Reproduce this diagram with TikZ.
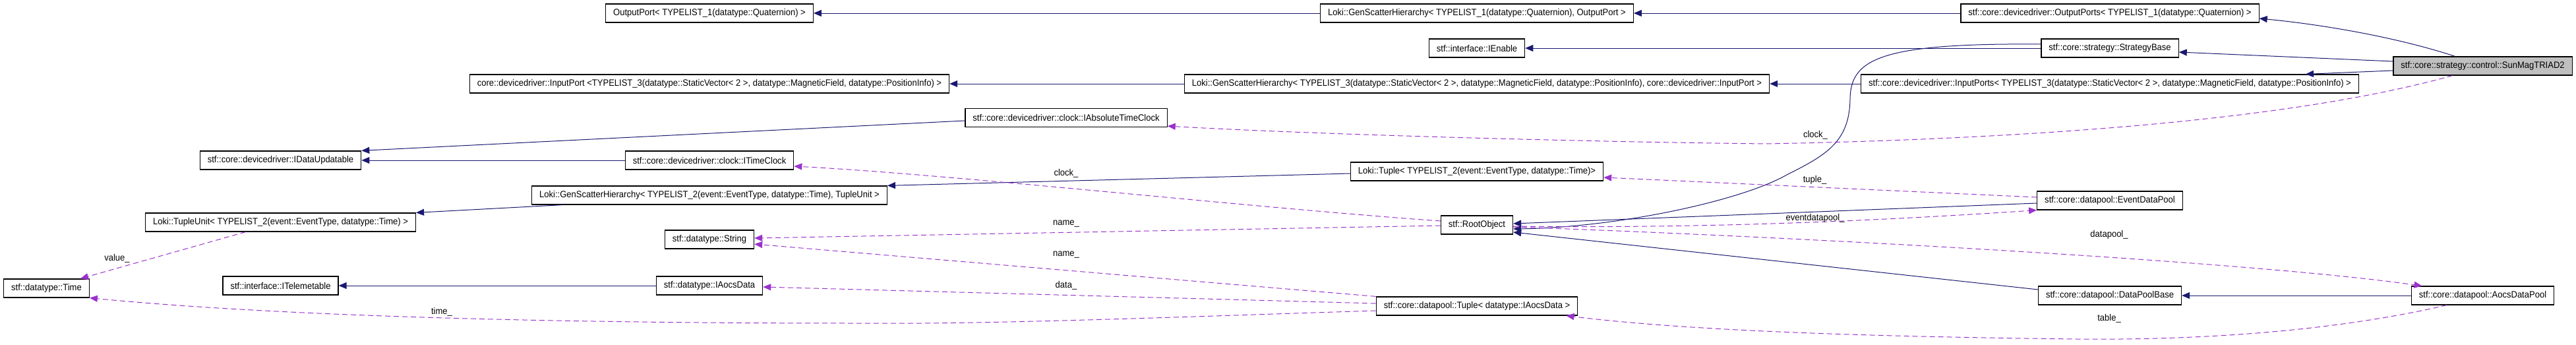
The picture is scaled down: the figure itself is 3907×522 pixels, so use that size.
\documentclass[tikz,border=0pt]{standalone}
\usepackage{fontspec}
\setmainfont{Liberation Sans}[FakeStretch=0.93]
\usetikzlibrary{arrows.meta}
\definecolor{inhblue}{RGB}{25,25,112}
\definecolor{usepurple}{RGB}{154,50,205}
\definecolor{curgray}{RGB}{191,191,191}
\tikzset{cls/.style={draw=black,line width=1.2pt,fill=white,font=\fontsize{14}{16}\selectfont,inner xsep=11.5pt,inner ysep=2pt,minimum height=28pt},cur/.style={cls,fill=curgray},inh/.style={-{Triangle[length=12pt,width=10pt]},draw=inhblue,line width=1pt},uses/.style={inh,draw=usepurple,dash pattern=on 8pt off 5pt},lbl/.style={font=\fontsize{14}{16}\selectfont,inner sep=0pt}}

\begin{document}
\begin{tikzpicture}[x=1pt,y=1pt]
\useasboundingbox (0,0) rectangle (3907,-522);
\node[cls] (outport) at (1076,-20) {OutputPort< TYPELIST\_1(datatype::Quaternion) >};
\node[cls] (gsh1) at (2240,-20) {Loki::GenScatterHierarchy< TYPELIST\_1(datatype::Quaternion), OutputPort >};
\node[cls] (outports) at (3200,-20) {stf::core::devicedriver::OutputPorts< TYPELIST\_1(datatype::Quaternion) >};
\node[cls] (ienable) at (2240,-73) {stf::interface::IEnable};
\node[cls] (strategy) at (3200,-73) {stf::core::strategy::StrategyBase};
\node[cls] (inport) at (1076,-127) {core::devicedriver::InputPort <TYPELIST\_3(datatype::StaticVector< 2 >, datatype::MagneticField, datatype::PositionInfo) >};
\node[cls] (gsh3) at (2240,-127) {Loki::GenScatterHierarchy< TYPELIST\_3(datatype::StaticVector< 2 >, datatype::MagneticField, datatype::PositionInfo), core::devicedriver::InputPort >};
\node[cls] (inports) at (3200,-127) {stf::core::devicedriver::InputPorts< TYPELIST\_3(datatype::StaticVector< 2 >, datatype::MagneticField, datatype::PositionInfo) >};
\node[cur] (sunmag) at (3765.5,-100) {stf::core::strategy::control::SunMagTRIAD2};
\node[cls] (abstime) at (1617,-178.5) {stf::core::devicedriver::clock::IAbsoluteTimeClock};
\node[cls] (dataupd) at (425.5,-243) {stf::core::devicedriver::IDataUpdatable};
\node[cls] (timeclock) at (1076,-243) {stf::core::devicedriver::clock::ITimeClock};
\node[cls] (ltuple) at (2240,-260) {Loki::Tuple< TYPELIST\_2(event::EventType, datatype::Time)>};
\node[cls] (gsh2) at (1076,-296) {Loki::GenScatterHierarchy< TYPELIST\_2(event::EventType, datatype::Time), TupleUnit >};
\node[cls] (tupleunit) at (425.5,-337) {Loki::TupleUnit< TYPELIST\_2(event::EventType, datatype::Time) >};
\node[cls] (rootobj) at (2240,-341) {stf::RootObject};
\node[cls] (eventpool) at (3200,-304) {stf::core::datapool::EventDataPool};
\node[cls] (string) at (1076,-363) {stf::datatype::String};
\node[cls] (telem) at (425.5,-433) {stf::interface::ITelemetable};
\node[cls] (aocsdata) at (1076,-433) {stf::datatype::IAocsData};
\node[cls] (time) at (70.5,-437) {stf::datatype::Time};
\node[cls] (ttuple) at (2240,-464) {stf::core::datapool::Tuple< datatype::IAocsData >};
\node[cls] (poolbase) at (3200,-448) {stf::core::datapool::DataPoolBase};
\node[cls] (aocspool) at (3765.5,-448) {stf::core::datapool::AocsDataPool};
% inheritance
\draw[inh] (gsh1) -- (outport);
\draw[inh] (outports) -- (gsh1);
\draw[inh] ([xshift=-42pt]sunmag.north) .. controls (3640,-58) and (3530,-38) .. ([yshift=-8pt]outports.east);
\draw[inh] ([yshift=7pt]sunmag.west) -- ([yshift=-6pt]strategy.east);
\draw[inh] ([yshift=-7pt]sunmag.west) -- ([xshift=-81pt]inports.north east);
\draw[inh] (strategy) -- (ienable);
\draw[inh] ([yshift=6pt]strategy.west) .. controls (2850,-65) and (2807,-90) .. (2806,-150) .. controls (2805,-215) and (2770,-235) .. (2710,-265) .. controls (2640,-305) and (2450,-345) .. ([yshift=-6pt]rootobj.east);
\draw[inh] ([yshift=-4pt]eventpool.west) -- ([yshift=2pt]rootobj.east);
\draw[inh] ([yshift=9pt]poolbase.west) -- ([yshift=-11pt]rootobj.east);
\draw[inh] ([yshift=-4.5pt]abstime.west) -- (dataupd.north east);
\draw[inh] (timeclock) -- (dataupd);
\draw[inh] (gsh3) -- (inport);
\draw[inh] (inports) -- (gsh3);
\draw[inh] ([xshift=47pt]gsh2.south west) -- (tupleunit.north east);
\draw[inh] ([yshift=-3pt]ltuple.west) -- (gsh2.north east);
\draw[inh] (aocsdata) -- (telem);
\draw[inh] (aocspool) -- (poolbase);
% members
\draw[uses] ([xshift=-46pt]sunmag.south) .. controls (3450,-190) and (3000,-212) .. (2680,-218) .. controls (2400,-215) and (2000,-204) .. ([yshift=2pt]abstime.south east);
\draw[uses] ([yshift=6pt]rootobj.west) .. controls (1900,-315) and (1450,-265) .. ([yshift=-9pt]timeclock.east);
\draw[uses] ([yshift=-1pt]rootobj.west) -- ([yshift=2pt]string.east);
\draw[uses] (ttuple.north west) -- ([yshift=-7pt]string.east);
\draw[uses] ([yshift=4pt]ttuple.west) -- ([yshift=-2pt]aocsdata.east);
\draw[uses] ([yshift=-7pt]ttuple.west) .. controls (1800,-480) and (1500,-492) .. (1300,-490) .. controls (900,-490) and (450,-482) .. (time.south east);
\draw[uses] ([xshift=-53pt]tupleunit.south) -- ([xshift=51.5pt]time.north);
\draw[uses] ([yshift=5pt]eventpool.west) -- ([yshift=-9pt]ltuple.east);
\draw[uses] ([yshift=-2pt]rootobj.east) .. controls (2550,-346) and (2800,-338) .. (eventpool.south west);
\draw[uses] ([yshift=-3pt]rootobj.east) .. controls (2700,-358) and (3400,-395) .. ([xshift=-92pt]aocspool.north);
\draw[uses] ([xshift=-54.5pt]aocspool.south) .. controls (3550,-500) and (3350,-516) .. (3150,-514) .. controls (2800,-510) and (2550,-500) .. ([xshift=-18pt]ttuple.south east);
% member names
\node[lbl] (lclockA) at (2753.5,-205) {clock\_};
\node[lbl] (lclockB) at (1617,-263) {clock\_};
\node[lbl] (lnameA) at (1617,-339) {name\_};
\node[lbl] (lnameB) at (1617,-386) {name\_};
\node[lbl] (ldata) at (1617,-433) {data\_};
\node[lbl] (ltime) at (670,-473) {time\_};
\node[lbl] (lvalue) at (177.5,-392) {value\_};
\node[lbl] (ltup) at (2752.5,-273) {tuple\_};
\node[lbl] (levpool) at (2753,-331) {eventdatapool\_};
\node[lbl] (lpool) at (3199,-356) {datapool\_};
\node[lbl] (ltable) at (3199,-483) {table\_};
\end{tikzpicture}
\end{document}
